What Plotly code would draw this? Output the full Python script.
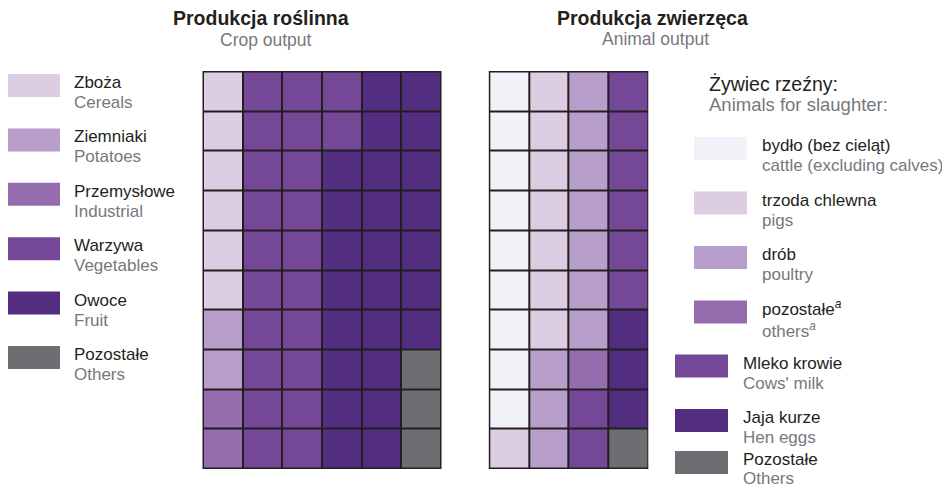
import plotly.graph_objects as go

# The page body has an 8px default margin, so the figure is drawn at (8, 8)
# inside the 950x489 window; size it to fill the rest exactly.
OFF = 8
W, H = 950 - OFF, 489 - OFF

# ---------------- data ----------------
crop_labels_pl = ["Zboża", "Ziemniaki", "Przemysłowe", "Warzywa", "Owoce", "Pozostałe"]
crop_labels_en = ["Cereals", "Potatoes", "Industrial", "Vegetables", "Fruit", "Others"]
crop_counts = [6, 2, 2, 22, 25, 3]
crop_colors = ["#dccde3", "#b89ecb", "#956dae", "#744797", "#522d80", "#6d6e71"]

animal_labels_pl = ["bydło (bez cieląt)", "trzoda chlewna", "drób",
                    "pozostałe<sup><i>a</i></sup>", "Mleko krowie", "Jaja kurze", "Pozostałe"]
animal_labels_en = ["cattle (excluding calves)", "pigs", "poultry",
                    "others<sup><i>a</i></sup>", "Cows' milk", "Hen eggs", "Others"]
animal_counts = [9, 8, 10, 1, 8, 3, 1]
animal_colors = ["#f3f1f8", "#dccde3", "#b89ecb", "#956dae", "#744797", "#522d80", "#6d6e71"]

crop_cols, animal_cols, n_rows = 6, 4, 10

DARK = "#231f20"
GREY = "#77787b"
FONT = "Liberation Sans, Arial, sans-serif"


def waffle(counts, nrows, ncols):
    """Fill a grid column by column, top to bottom."""
    z = [[None] * ncols for _ in range(nrows)]
    k = 0
    for cat, c in enumerate(counts):
        for _ in range(c):
            col, row = divmod(k, nrows)
            z[row][col] = cat
            k += 1
    return z


def disc_scale(colors):
    n = len(colors)
    cs = []
    for i, c in enumerate(colors):
        cs.append([i / n, c])
        cs.append([(i + 1) / n, c])
    return cs


def px_x(x):
    return (x - OFF) / W


def px_y(y):
    return 1 - (y - OFF) / H


fig = go.Figure()

for z, colors, xa, ya, ncol in [
    (waffle(crop_counts, n_rows, crop_cols), crop_colors, "x", "y", crop_cols),
    (waffle(animal_counts, n_rows, animal_cols), animal_colors, "x2", "y2", animal_cols),
]:
    fig.add_trace(go.Heatmap(
        z=z, x=list(range(ncol)), y=list(range(n_rows)),
        colorscale=disc_scale(colors), zmin=-0.5, zmax=len(colors) - 0.5,
        showscale=False, xgap=2, ygap=2, hoverinfo="skip",
        xaxis=xa, yaxis=ya,
    ))

eps = 0.012
ax_common = dict(showgrid=False, zeroline=False, showticklabels=False,
                 ticks="", showline=False, fixedrange=True)
fig.update_layout(
    width=W, height=H,
    margin=dict(l=0, r=0, t=0, b=0),
    paper_bgcolor="white",
    plot_bgcolor=DARK,
    showlegend=False,
    font=dict(family=FONT),
    xaxis=dict(domain=[px_x(202.5), px_x(441.5)], range=[-0.5 - eps, crop_cols - 0.5 + eps], **ax_common),
    yaxis=dict(domain=[px_y(469), px_y(71)], range=[n_rows - 0.5 + eps, -0.5 - eps], **ax_common),
    xaxis2=dict(domain=[px_x(488.8), px_x(648.3)], range=[-0.5 - eps, animal_cols - 0.5 + eps],
                anchor="y2", **ax_common),
    yaxis2=dict(domain=[px_y(469), px_y(71)], range=[n_rows - 0.5 + eps, -0.5 - eps],
                anchor="x2", **ax_common),
)

annotations = []
shapes = []


def txt(x, y, text, size, color, bold=False, xanchor="left"):
    if bold:
        text = "<b>" + text + "</b>"
    annotations.append(dict(
        x=px_x(x), y=px_y(y), xref="paper", yref="paper", text=text,
        showarrow=False, xanchor=xanchor, yanchor="middle", align=xanchor,
        font=dict(size=size, color=color, family=FONT),
    ))


# titles
txt(261, 18.5, "Produkcja roślinna", 19.5, DARK, bold=True, xanchor="center")
txt(266, 39.5, "Crop output", 17.5, GREY, xanchor="center")
txt(652, 18.5, "Produkcja zwierzęca", 19.5, DARK, bold=True, xanchor="center")
txt(655, 39, "Animal output", 17.5, GREY, xanchor="center")

LEG_SIZE = 17


def swatch(x0, top, color):
    shapes.append(dict(type="rect", xref="paper", yref="paper",
                       x0=px_x(x0), x1=px_x(x0 + 53), y0=px_y(top + 23), y1=px_y(top),
                       fillcolor=color, line=dict(width=0)))


def legend_item(x0, top, pl, en, color, tx, t1=8.5, t2=28.5, combined=False):
    swatch(x0, top, color)
    if combined:
        # both lines in one text block (avoids overlapping superscripts)
        txt(tx, top + 18.5, pl + "<br><span style='color:" + GREY + "'>" + en + "</span>",
            LEG_SIZE, DARK)
    else:
        txt(tx, top + t1, pl, LEG_SIZE, DARK)
        txt(tx, top + t2, en, LEG_SIZE, GREY)


# left legend (crop)
for i in range(len(crop_labels_pl)):
    legend_item(7, 74 + 54.4 * i, crop_labels_pl[i], crop_labels_en[i], crop_colors[i], 71.5)

# right legend (animal)
txt(707, 84, "Żywiec rzeźny:", 19.5, DARK)
txt(707, 104, "Animals for slaughter:", 18.5, GREY)
right_tops = [137, 191.5, 246, 300.5, 354.5, 409, 451]
for i in range(len(animal_labels_pl)):
    if i < 4:
        legend_item(694, right_tops[i], animal_labels_pl[i], animal_labels_en[i], animal_colors[i], 760,
                    combined=(i == 3))
    elif i == len(animal_labels_pl) - 1:
        legend_item(675, right_tops[i], animal_labels_pl[i], animal_labels_en[i], animal_colors[i], 741,
                    t1=8.5, t2=27)
    else:
        legend_item(675, right_tops[i], animal_labels_pl[i], animal_labels_en[i], animal_colors[i], 741)

fig.update_layout(annotations=annotations, shapes=shapes)
fig.write_html("out.html")
